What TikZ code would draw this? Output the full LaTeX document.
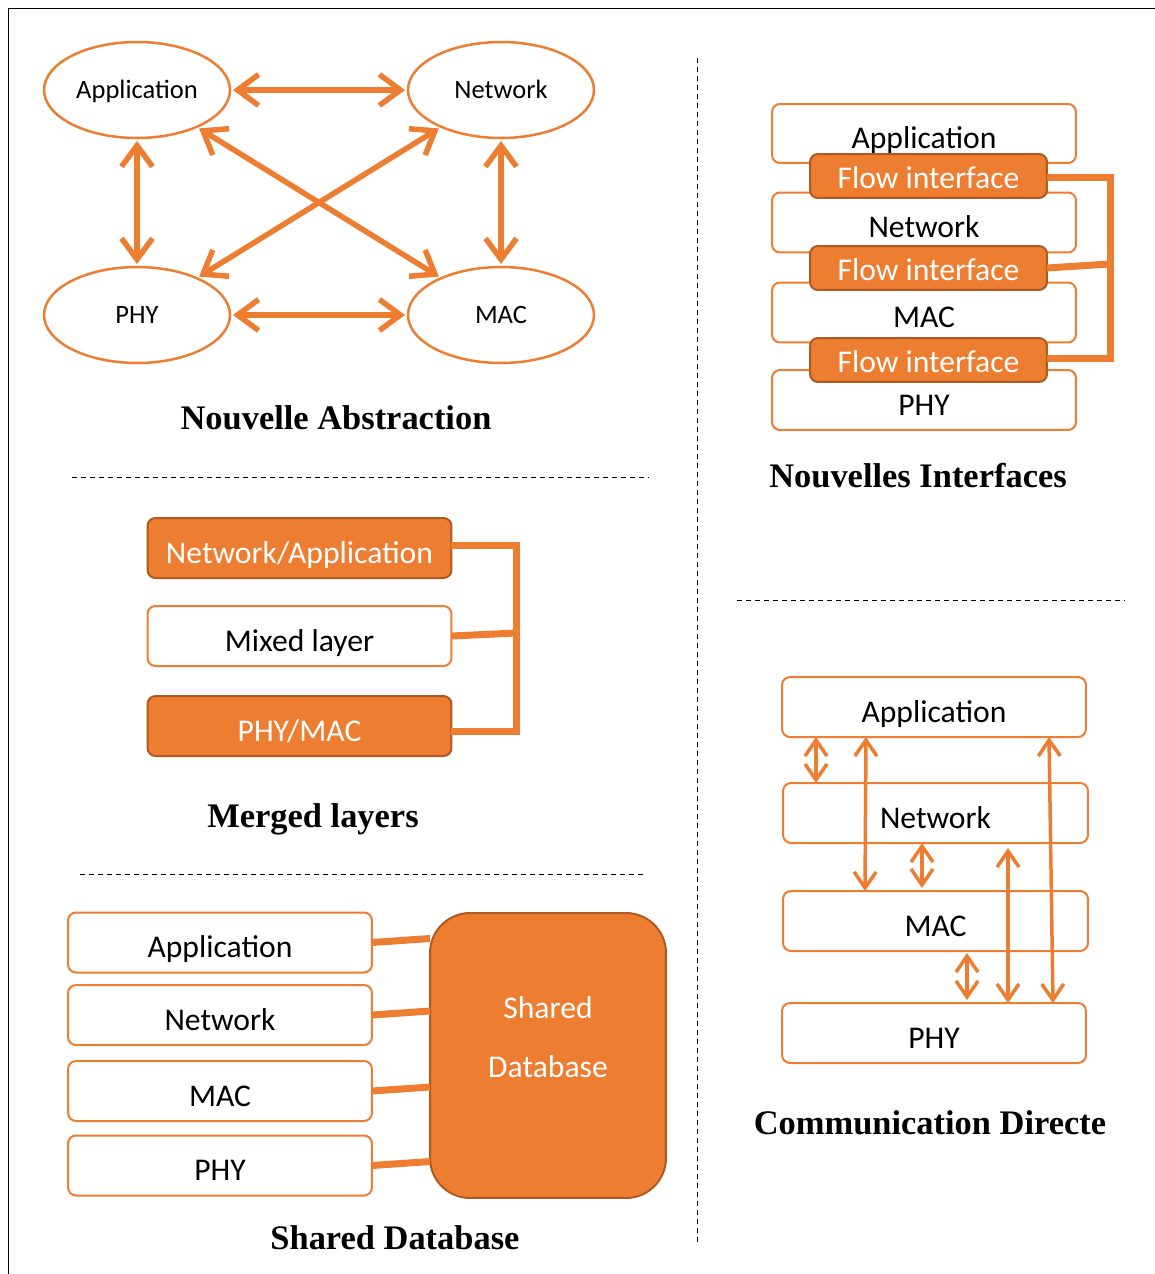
\documentclass[tikz,border=0pt]{standalone}
\usepackage{fontspec}
\newfontfamily\boxfont{Carlito}
\newfontfamily\headfont{Liberation Serif}
\usetikzlibrary{arrows.meta,shapes.geometric,calc}
\definecolor{lorange}{HTML}{ED7D31}
\definecolor{dorange}{HTML}{AE5A21}
\begin{document}
\begin{tikzpicture}[x=0.02cm,y=-0.02cm,
  every node/.style={inner sep=0pt,outer sep=0pt},
  layer/.style={draw=lorange,line width=0.04cm,rounded corners=0.16cm,fill=white,
    minimum width=6.08cm,minimum height=1.2cm,
    font=\boxfont\fontsize{18}{21}\selectfont,text height=0.61cm,text depth=0pt},
  filled/.style={layer,fill=lorange,draw=dorange,text=white},
  flowbox/.style={filled,minimum width=4.74cm,minimum height=0.88cm,text height=0.49cm},
  oval/.style={ellipse,draw=lorange,line width=0.05cm,fill=white,
    minimum width=3.72cm,minimum height=1.92cm,
    font=\boxfont\fontsize{15.1}{17}\selectfont,text height=0.34cm,text depth=0pt},
  heading/.style={font=\headfont\bfseries\fontsize{19.6}{24}\selectfont,text height=0.46cm,text depth=0pt},
  dbtext/.style={font=\boxfont\fontsize{18}{21}\selectfont,text=white,text height=0.41cm,text depth=0pt},
  bigarrow/.style={draw=lorange,line width=0.11cm,
    {Straight Barb[length=0.42cm,width=0.62cm]}-{Straight Barb[length=0.42cm,width=0.62cm]},
    shorten <=0.06cm,shorten >=0.06cm},
  thinarrow/.style={draw=lorange,line width=0.07cm,
    {Straight Barb[length=0.32cm,width=0.44cm]}-{Straight Barb[length=0.32cm,width=0.44cm]}},
  bus/.style={draw=lorange,line width=0.14cm,line join=miter},
  sep/.style={draw=black,line width=0.02cm,dash pattern=on 0.1cm off 0.08cm},
  frame/.style={draw=black,line width=0.03cm}]

\useasboundingbox (0,0) rectangle (1155,1274);
\fill[white] (0,0) rectangle (1155,1274);

% outer frame (top and left edges)
\draw[frame] (8.5,1274) -- (8.5,8.5) -- (1155,8.5);

% separators
\draw[sep] (697,58) -- (697,1245);
\draw[sep] (72,477) -- (648,477);
\draw[sep] (80,874) -- (645,874);
\draw[sep] (737,600) -- (1124,600);

% ---- Nouvelle Abstraction ----
\node[oval] (oapp) at (137,90) {Application};
\node[oval] (onet) at (501,90) {Network};
\node[oval] (ophy) at (137,315) {PHY};
\node[oval] (omac) at (501,315) {MAC};
\draw[bigarrow] (oapp) -- (onet);
\draw[bigarrow] (oapp) -- (ophy);
\draw[bigarrow] (onet) -- (omac);
\draw[bigarrow] (ophy) -- (omac);
\draw[bigarrow] (oapp) -- (omac);
\draw[bigarrow] (onet) -- (ophy);
\node[heading] (t1) at (336,417.5) {Nouvelle Abstraction};

% ---- Merged layers ----
\node[filled] (mna) at (299.5,548) {Network/Application};
\node[layer]  (mml) at (299.5,636) {Mixed layer};
\node[filled] (mpm) at (299.5,726) {PHY/MAC};
\coordinate (mtop) at (516,545);
\coordinate (mmid) at (516,633);
\coordinate (mbot) at (516,731);
\draw[bus] (mna.east |- mtop) -- (mtop) -- (mbot) -- (mpm.east |- mbot);
\draw[bus] (mml.east) -- (mmid);
\node[heading] (t2) at (313,816) {Merged layers};

% ---- Shared Database ----
\node[layer] (sa) at (220,942.5) {Application};
\node[layer] (sn) at (220,1015) {Network};
\node[layer] (sm) at (220,1091) {MAC};
\node[layer] (sp) at (220,1165.5) {PHY};
\node[draw=dorange,fill=lorange,line width=0.04cm,rounded corners=0.8cm,
  minimum width=4.72cm,minimum height=5.7cm] (db) at (548,1055.5) {};
\node[dbtext] (dbl1) at (548,1008) {Shared};
\node[dbtext] (dbl2) at (548,1067) {Database};
\foreach \n in {sa,sn,sm,sp}{
  \draw[bus] (\n.east) -- ($(\n.east -| db.west)+(0,-4)$);
}
\node[heading] (t3) at (395,1238) {Shared Database};

% ---- Nouvelles Interfaces ----
\node[layer,minimum height=1.18cm] (ia) at (924,133.5) {Application};
\node[layer] (in) at (924,222.5) {Network};
\node[layer] (im) at (924,312.5) {MAC};
\node[layer] (ip) at (924,400) {PHY};
\node[flowbox] (f1) at (928.5,176) {Flow interface};
\node[flowbox] (f2) at (928.5,268) {Flow interface};
\node[flowbox] (f3) at (928.5,360) {Flow interface};
\coordinate (itop) at (1110,177);
\coordinate (imid) at (1110,264);
\coordinate (ibot) at (1110,358);
\draw[bus] (f1.east |- itop) -- (itop) -- (ibot) -- (f3.east |- ibot);
\draw[bus] (f2.east) -- (imid);
\node[heading] (t4) at (918,476) {Nouvelles Interfaces};

% ---- Communication Directe ----
\node[layer] (ca) at (934,707) {Application};
\node[layer,minimum width=6.1cm] (cn) at (935.5,813) {Network};
\node[layer,minimum width=6.1cm] (cm) at (935.5,921) {MAC};
\node[layer] (cp) at (934,1033) {PHY};
\draw[thinarrow] (816,0 |- ca.south) -- (816,0 |- cn.north);
\draw[thinarrow] (866,0 |- ca.south) -- (865,0 |- cm.north);
\draw[thinarrow] (922,0 |- cn.south) -- ($(922,0 |- cm.north)+(0,-3)$);
\draw[thinarrow] ($(967,0 |- cm.south)+(0,2)$) -- ($(967,0 |- cp.north)+(0,-3)$);
\draw[thinarrow] ($(1008,0 |- cn.south)+(0,5)$) -- (1008,0 |- cp.north);
\draw[thinarrow] (1049,0 |- ca.south) -- (1053,0 |- cp.north);
\node[heading] (t5) at (930,1122.5) {Communication Directe};

\end{tikzpicture}
\end{document}
